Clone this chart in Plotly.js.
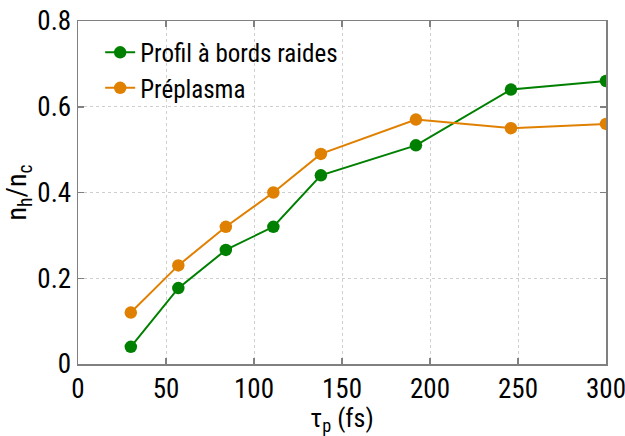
<!DOCTYPE html>
<html>
<head>
<meta charset="utf-8">
<script src="https://cdn.plot.ly/plotly-3.0.1.min.js"></script>
<style>html,body{margin:0;padding:0;background:#fff;}#plot{width:625px;height:436px;}</style>
</head>
<body>
<div id="plot"></div>
<script>
// Pulse duration (fs)
const tauP = [30, 57, 84, 111, 138, 192, 246, 300];
// Hot electron density ratio n_h/n_c
const steepProfile = [0.04, 0.177, 0.266, 0.32, 0.44, 0.51, 0.64, 0.66];
const preplasma = [0.12, 0.23, 0.32, 0.40, 0.49, 0.57, 0.55, 0.56];
const seriesNames = ['Profil à bords raides', 'Préplasma'];
const xTicks = [0, 50, 100, 150, 200, 250, 300];
const yTicks = [0, 0.2, 0.4, 0.6, 0.8];
const yTickText = ['0', '0.2', '0.4', '0.6', '0.8'];

const green = '#008000';
const orange = '#E08000';
const font = 'Roboto Condensed, Liberation Sans, sans-serif';

const traces = [
  {x: tauP, y: steepProfile, name: seriesNames[0], mode: 'lines+markers',
   line: {color: green, width: 2}, marker: {color: green, size: 12.5}},
  {x: tauP, y: preplasma, name: seriesNames[1], mode: 'lines+markers',
   line: {color: orange, width: 2}, marker: {color: orange, size: 12.5}}
];

const axisCommon = {
  showline: true, mirror: 'ticks', linecolor: '#808080', linewidth: 1.5,
  ticks: 'inside', ticklen: 6, tickcolor: '#808080', tickwidth: 1.5,
  showgrid: true, gridcolor: '#cfcfcf', griddash: 'dot', gridwidth: 1,
  zeroline: false, ticklabeloverflow: 'allow',
  tickfont: {family: font, size: 27, color: '#000'}
};

const layout = {
  width: 625, height: 436,
  margin: {l: 78, r: 19, t: 21, b: 72},
  paper_bgcolor: '#fff', plot_bgcolor: '#fff',
  showlegend: true,
  legend: {x: 0.042, y: 0.975, xanchor: 'left', yanchor: 'top',
           bgcolor: 'rgba(0,0,0,0)', font: {family: font, size: 25, color: '#000'},
           tracegroupgap: 0, itemwidth: 30},
  xaxis: Object.assign({}, axisCommon, {
    range: [0, 300], tickvals: xTicks, ticktext: xTicks.map(String),
    title: {text: 'τ<sub>p</sub> (fs)', font: {family: font, size: 26, color: '#000'}, standoff: 2}
  }),
  yaxis: Object.assign({}, axisCommon, {
    range: [0, 0.8], tickvals: yTicks, ticktext: yTickText,
    title: {text: 'n<sub>h</sub>/n<sub>c</sub>', font: {family: font, size: 28, color: '#000'}, standoff: 0}
  })
};

Plotly.newPlot('plot', traces, layout, {displayModeBar: false, staticPlot: true});
</script>
</body>
</html>
